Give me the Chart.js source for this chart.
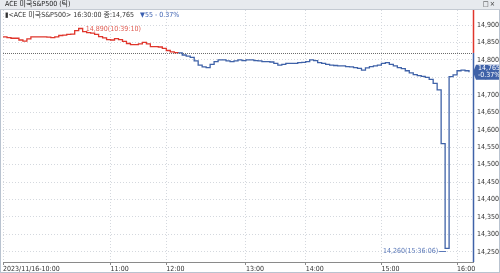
<!DOCTYPE html>
<html><head><meta charset="utf-8">
<script src="https://cdn.jsdelivr.net/npm/chart.js@4.4.1/dist/chart.umd.min.js"></script>
<style>
html,body{margin:0;padding:0;background:#fff;}
#wrap{position:relative;width:500px;height:273px;overflow:hidden;font-family:"Liberation Sans Narrow","DejaVu Sans Condensed","Noto Sans CJK KR",sans-serif;}
#bar{position:absolute;left:0;top:0;width:500px;height:9px;background:#e7eaee;border-bottom:1px solid #c4cad2;font-size:7px;line-height:9px;color:#222;z-index:2;}
#bar .t{position:absolute;left:5px;top:0;}
#bar .ic{position:absolute;right:4px;top:0;font-size:7px;color:#333;letter-spacing:1px;}
#sub{position:absolute;left:5px;top:11px;font-size:7px;line-height:8px;color:#333;white-space:nowrap;z-index:2;}
#sub .dn{color:#3a5fb0;margin-left:6px;}
canvas{position:absolute;left:0;top:0;}
</style></head>
<body><div id="wrap">
<canvas id="c" width="500" height="273"></canvas>
<div id="bar"><span class="t">ACE 미국S&amp;P500 (틱)</span><span class="ic">□×</span></div>
<div id="sub"></div>
</div>
<script>
const title = "ACE 미국S&P500";
const dateLabel = "2023/11/16";
const prevClose = 14820;
const times = [
"10:00:00","10:02:05","10:04:10","10:06:15","10:08:20","10:10:25","10:12:30","10:14:35","10:16:40","10:18:45",
"10:20:50","10:22:55","10:25:00","10:27:05","10:29:10","10:31:15","10:33:20","10:35:25","10:37:20","10:39:10",
"10:41:50","10:44:30","10:47:10","10:49:50","10:52:30","10:55:10","10:57:35","11:00:00","11:04:15","11:08:30",
"11:12:50","11:17:05","11:21:25","11:25:40","11:30:00","11:34:15","11:38:35","11:42:50","11:47:10","11:51:25",
"11:55:45","12:00:00","12:03:00","12:06:00","12:09:00","12:12:00","12:15:00","12:18:00","12:21:00","12:24:00",
"12:27:00","12:30:00","12:33:00","12:36:00","12:39:00","12:42:00","12:45:00","12:48:00","12:51:00","12:54:00",
"12:57:00","13:00:00","13:04:00","13:08:00","13:12:00","13:16:00","13:20:00","13:24:00","13:28:00","13:32:00",
"13:36:00","13:40:00","13:44:00","13:48:00","13:52:00","13:56:00","14:00:00","14:03:10","14:06:20","14:09:30",
"14:12:40","14:15:50","14:19:00","14:22:10","14:25:20","14:28:30","14:31:35","14:34:45","14:37:55","14:41:05",
"14:44:15","14:47:25","14:50:35","14:53:45","14:56:50","15:00:00","15:02:15","15:04:30","15:06:45","15:09:00",
"15:11:15","15:13:30","15:15:45","15:18:00","15:20:15","15:22:30","15:24:45","15:27:00","15:29:15","15:31:30",
"15:34:00","15:36:06","15:44:00","15:52:00","16:00:00","16:10:00","16:20:00","16:30:00","16:35:00"
];
const prices = [
14866,14864,14862,14862,14857,14854,14860,14866,14866,14866,
14866,14865,14864,14866,14870,14871,14873,14874,14884,14890,
14881,14878,14877,14873,14867,14863,14858,14857,14861,14858,
14853,14847,14844,14844,14846,14850,14846,14838,14838,14837,
14833,14827,14823,14821,14820,14814,14811,14807,14797,14785,
14780,14778,14787,14795,14800,14800,14797,14795,14797,14800,
14798,14800,14800,14798,14797,14795,14795,14794,14790,14785,
14787,14790,14790,14790,14792,14793,14795,14800,14798,14792,
14790,14787,14785,14784,14783,14783,14781,14780,14778,14776,
14771,14777,14781,14783,14785,14790,14792,14787,14783,14778,
14775,14769,14763,14758,14755,14753,14750,14744,14733,14714,
14560,14260,14752,14757,14769,14771,14769,14765,null
];
const yTickValues = [14250,14300,14350,14400,14450,14500,14550,14600,14650,14700,14750,14800,14850,14900];

const RED = '#e0362c', BLUE = '#3f62a8';
const fmt = v => v.toLocaleString('en-US');
const valid = prices.map((v,i)=>[v,i]).filter(p=>p[0]!==null);
const lastIdx = valid[valid.length-1][1];
const last = prices[lastIdx];
const diff = last - prevClose;
const pct = (diff / prevClose * 100).toFixed(2);
let maxI = valid[0][1], minI = valid[0][1];
valid.forEach(([v,i])=>{ if(v>prices[maxI]) maxI=i; if(v<prices[minI]) minI=i; });

document.getElementById('sub').innerHTML =
  '▮&lt;' + title.replace('&','&amp;') + '&gt; ' + times[lastIdx] + ' 종:' + fmt(last) +
  '<span class="dn">' + (diff<0?'▼':'▲') + Math.abs(diff) + ' - ' + Math.abs(pct) + '%</span>';

const FONT = '"Liberation Sans Narrow","DejaVu Sans Condensed","Noto Sans CJK KR",sans-serif';

const overlay = {
  id:'overlay',
  beforeDatasetsDraw(chart){
    const {ctx, chartArea:a, scales:{y}} = chart;
    const yp = Math.round(y.getPixelForValue(prevClose))+0.5;
    ctx.save();
    ctx.strokeStyle='#6b6b6b'; ctx.lineWidth=1; ctx.setLineDash([1,1]);
    ctx.beginPath(); ctx.moveTo(a.left,yp); ctx.lineTo(a.right,yp); ctx.stroke();
    ctx.restore();
  },
  afterDatasetsDraw(chart){
    const {ctx, chartArea:a, scales:{x,y}} = chart;
    const yp = y.getPixelForValue(prevClose);
    ctx.save();
    ctx.lineWidth=1.5;
    ctx.strokeStyle=RED; ctx.beginPath(); ctx.moveTo(a.right+0.5,a.top); ctx.lineTo(a.right+0.5,yp); ctx.stroke();
    ctx.strokeStyle=BLUE; ctx.beginPath(); ctx.moveTo(a.right+0.5,yp); ctx.lineTo(a.right+0.5,a.bottom); ctx.stroke();
    ctx.font = '7px ' + FONT;
    ctx.textBaseline='middle';
    // max label
    const mx = x.getPixelForValue(maxI), my = y.getPixelForValue(prices[maxI]);
    ctx.fillStyle='#e05a50'; ctx.textAlign='left';
    ctx.fillText(fmt(prices[maxI]) + '(' + times[maxI] + ')', mx+7, my+0.5);
    // min label
    const nx = x.getPixelForValue(minI), ny = y.getPixelForValue(prices[minI]);
    ctx.fillStyle='#5a78b8'; ctx.textAlign='right';
    const ty = ny+3;
    ctx.fillText(fmt(prices[minI]) + '(' + times[minI] + ')', nx-7, ty);
    ctx.strokeStyle='#5a78b8'; ctx.lineWidth=1;
    ctx.beginPath(); ctx.moveTo(nx-6, Math.round(ty)+0.5); ctx.lineTo(nx+1, Math.round(ty)+0.5); ctx.stroke();
    // price box
    const ly = y.getPixelForValue(last);
    const bx = a.right+3, bw = chart.width - bx, bh = 15;
    ctx.fillStyle=BLUE;
    ctx.beginPath();
    ctx.moveTo(a.right, ly); ctx.lineTo(bx, ly-bh/2); ctx.lineTo(bx+bw, ly-bh/2);
    ctx.lineTo(bx+bw, ly+bh/2); ctx.lineTo(bx, ly+bh/2); ctx.closePath(); ctx.fill();
    ctx.fillStyle='#fff'; ctx.textAlign='left'; ctx.font='7px ' + FONT;
    ctx.fillText(fmt(last), bx+2, ly-3.5);
    ctx.fillText((diff<0?'-':'+') + Math.abs(pct) + '%', bx+2, ly+3.5);
    // frame
    ctx.strokeStyle='#b9c3d0'; ctx.lineWidth=1;
    ctx.beginPath(); ctx.moveTo(0.5,0); ctx.lineTo(0.5,chart.height); ctx.stroke();
    ctx.beginPath(); ctx.moveTo(chart.width-0.5,0); ctx.lineTo(chart.width-0.5,chart.height); ctx.stroke();
    ctx.beginPath(); ctx.moveTo(0,chart.height-0.5); ctx.lineTo(chart.width,chart.height-0.5); ctx.stroke();
    ctx.restore();
  }
};

new Chart(document.getElementById('c'), {
  type:'line',
  data:{
    labels: times,
    datasets:[{
      data: prices,
      borderWidth:1.3,
      stepped:true,
      pointRadius:0,
      borderColor: BLUE,
      segment:{
        borderColor: c => (c.p0.parsed.y >= prevClose && c.p1.parsed.y >= prevClose) ? RED : BLUE
      }
    }]
  },
  options:{
    responsive:false,
    animation:false,
    events:[],
    layout:{padding:{top:10,left:3,right:0,bottom:0}},
    plugins:{legend:{display:false},tooltip:{enabled:false}},
    scales:{
      x:{
        type:'category',
        offset:false,
        afterBuildTicks(scale){ scale.ticks = scale.ticks.filter(t => times[t.value].endsWith(':00:00')); },
        afterFit(scale){ scale.height = 11; },
        grid:{color:'#d4d8de', lineWidth:1, tickLength:3, tickColor:'#8a8a8a', tickBorderDash:[]},
        border:{display:true, color:'#8a8a8a', width:1, dash:[1,2]},
        ticks:{
          autoSkip:false, maxRotation:0, minRotation:0, align:'start', padding:0,
          color:'#333', font:{family:FONT, size:7},
          callback(v){ const t = times[v]; return v===0 ? dateLabel + '-' + t.slice(0,5) : t.slice(0,5); }
        }
      },
      y:{
        position:'right',
        min:14221, max:14943,
        afterBuildTicks(scale){ scale.ticks = yTickValues.map(v => ({value:v})); },
        afterFit(scale){ scale.width = 27; },
        grid:{color:'#d4d8de', lineWidth:1, drawTicks:false},
        border:{display:false, dash:[1,2]},
        ticks:{padding:4, color:'#333', font:{family:FONT, size:7}, callback:v => fmt(v)}
      }
    }
  },
  plugins:[overlay]
});
</script>
</body></html>
